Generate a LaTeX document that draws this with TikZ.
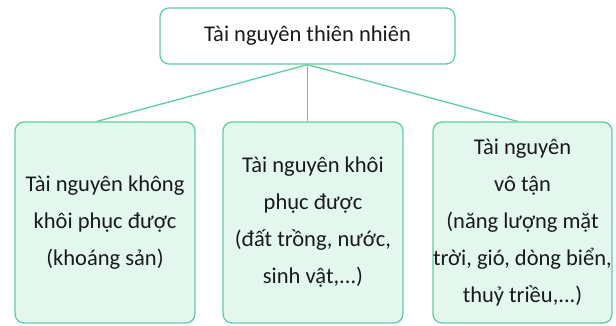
\documentclass[tikz,border=0pt]{standalone}
\usepackage{fontspec}
\setmainfont{Carlito}
\definecolor{linec}{HTML}{5CCFA0}
\definecolor{boxfill}{HTML}{E4F7EF}
\definecolor{txt}{HTML}{1A1A1A}
\begin{document}
\begin{tikzpicture}[x=1pt,y=-1pt,
  box/.style={draw=linec, line width=1.3pt, rounded corners=9pt, fill=boxfill, align=center,
    text=txt, font=\fontsize{22.5}{37}\selectfont, inner sep=0pt},
  conn/.style={draw=linec, line width=1.3pt}]
\useasboundingbox (0,0) rectangle (616,325);
\node[box, fill=white, minimum width=295pt, minimum height=56pt] (top) at (307.5,36) {Tài nguyên thiên nhiên};
\node[box, minimum width=180pt, minimum height=201pt] (left) at (105,222.5) {Tài nguyên không\\khôi phục được\\(khoáng sản)};
\node[box, minimum width=180pt, minimum height=201pt] (mid) at (313,222.5) {Tài nguyên khôi\\phục được\\(đất trồng, nước,\\sinh vật,...)};
\node[box, minimum width=179pt, minimum height=201pt] (right) at (522.5,222.5) {Tài nguyên\\vô tận\\(năng lượng mặt\\trời, gió, dòng biển,\\thuỷ triều,...)};
\coordinate (lt) at ([xshift=-8pt]left.north);
\coordinate (rt) at ([xshift=-5pt]right.north);
\draw[conn] (top.south) -- (lt);
\draw[conn] (top.south) -- (top.south |- mid.north);
\draw[conn] (top.south) -- (rt);
\end{tikzpicture}
\end{document}
